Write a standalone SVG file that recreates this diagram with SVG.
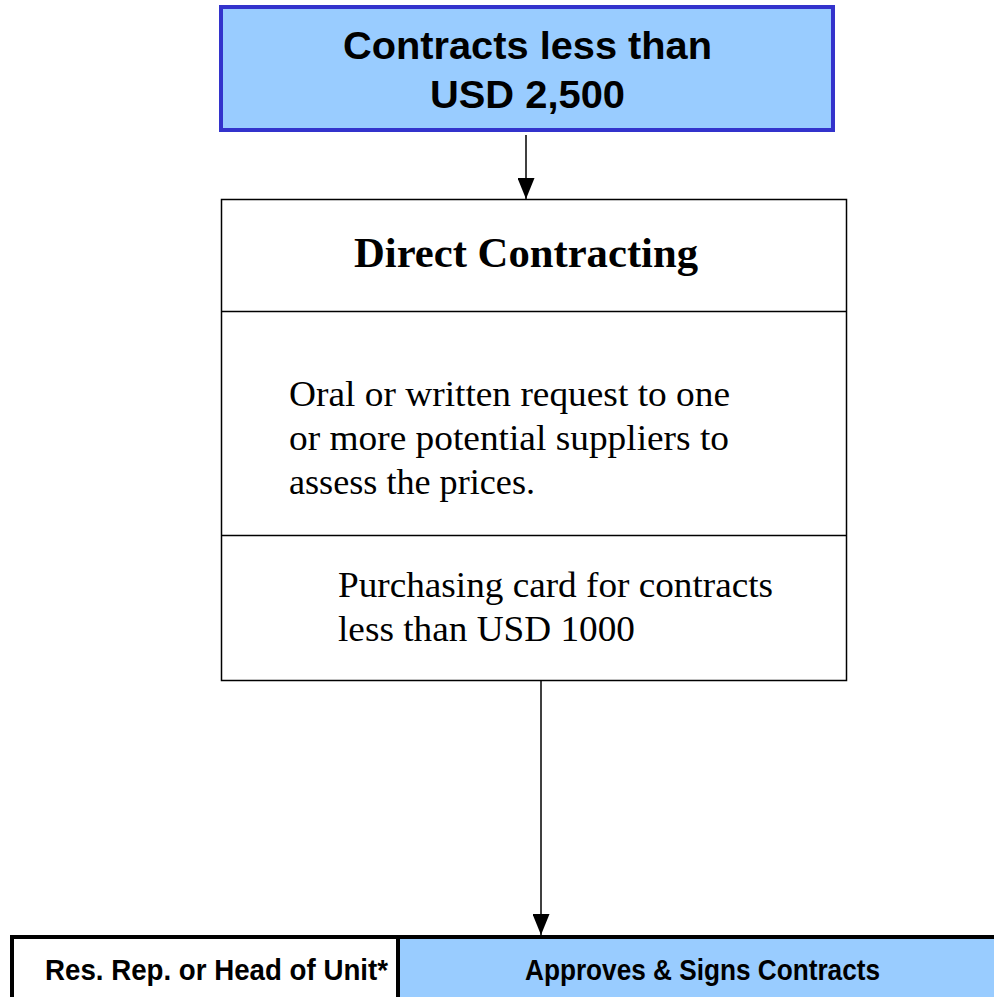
<svg xmlns="http://www.w3.org/2000/svg" width="994" height="997" viewBox="0 0 994 997">
  <defs>
    <marker id="arrow" markerWidth="21" markerHeight="17" refX="21" refY="8.5" orient="auto" markerUnits="userSpaceOnUse" viewBox="0 0 21 17">
      <path d="M0,0 L21,8.5 L0,17 z" fill="#000"/>
    </marker>
    <style>
      .serif { font-family: "Liberation Serif", "Times New Roman", serif; fill: #000; }
      .sans { font-family: "Liberation Sans", Arial, sans-serif; font-weight: bold; fill: #000; }
      .box { fill: #fff; stroke: #000; stroke-width: 1.5; }
      .edge { stroke: #000; stroke-width: 1.5; fill: none; }
    </style>
  </defs>
  <rect width="994" height="997" fill="#fff"/>

  <g id="threshold">
    <rect x="221" y="7" width="612" height="123" fill="#99CCFF" stroke="#3333CC" stroke-width="4"/>
    <text class="sans" x="343" y="59" font-size="38" textLength="369" lengthAdjust="spacingAndGlyphs">Contracts less than</text>
    <text class="sans" x="430" y="108" font-size="38" textLength="195" lengthAdjust="spacingAndGlyphs">USD 2,500</text>
  </g>

  <g id="direct-contracting">
    <rect class="box" x="221.5" y="199.5" width="625" height="481"/>
    <line class="edge" x1="221.5" y1="311.5" x2="846.5" y2="311.5"/>
    <line class="edge" x1="221.5" y1="535.5" x2="846.5" y2="535.5"/>
    <text class="serif" x="354" y="267" font-size="43" font-weight="bold" textLength="344" lengthAdjust="spacingAndGlyphs">Direct Contracting</text>
    <text class="serif" x="289" y="406" font-size="35" textLength="441" lengthAdjust="spacingAndGlyphs">Oral or written request to one</text>
    <text class="serif" x="289" y="450" font-size="35" textLength="440" lengthAdjust="spacingAndGlyphs">or more potential suppliers to</text>
    <text class="serif" x="289" y="494" font-size="35" textLength="246" lengthAdjust="spacingAndGlyphs">assess the prices.</text>
    <text class="serif" x="338" y="597" font-size="35" textLength="435" lengthAdjust="spacingAndGlyphs">Purchasing card for contracts</text>
    <text class="serif" x="338" y="641" font-size="35" textLength="297" lengthAdjust="spacingAndGlyphs">less than USD 1000</text>
  </g>

  <g id="approval">
    <rect x="398" y="937" width="600" height="64" fill="#99CCFF"/>
    <path d="M12,1000 V937 H1000 M398,937 V1000" fill="none" stroke="#000" stroke-width="4"/>
    <text class="sans" x="45" y="980" font-size="29" textLength="343" lengthAdjust="spacingAndGlyphs">Res. Rep. or Head of Unit*</text>
    <text class="sans" x="525" y="980" font-size="29" textLength="355" lengthAdjust="spacingAndGlyphs">Approves &amp; Signs Contracts</text>
  </g>

  <g id="connectors">
    <line class="edge" x1="526" y1="135" x2="526" y2="199" marker-end="url(#arrow)"/>
    <line class="edge" x1="541" y1="681" x2="541" y2="935" marker-end="url(#arrow)"/>
  </g>
</svg>
